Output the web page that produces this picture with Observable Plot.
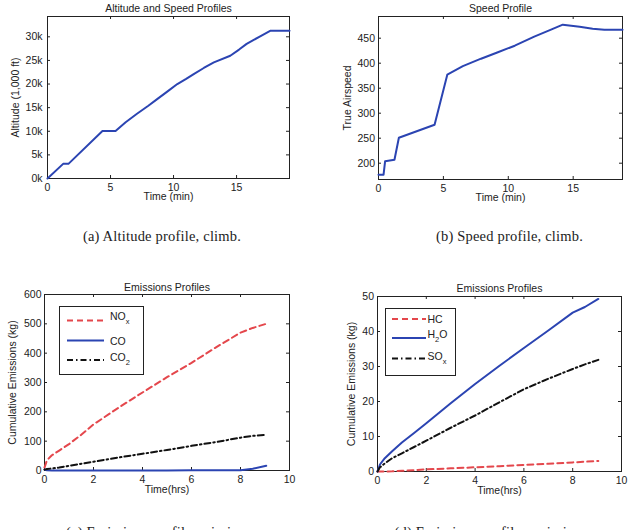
<!DOCTYPE html>
<html><head><meta charset="utf-8">
<script src="https://cdn.jsdelivr.net/npm/d3@7"></script>
<script src="https://cdn.jsdelivr.net/npm/@observablehq/plot@0.6"></script>
<style>
body{margin:0;background:#fff}
#root{position:relative;width:630px;height:530px;overflow:hidden;background:#fff;font-family:"Liberation Sans",Arial,sans-serif}
.panel{position:absolute}
#overlay{position:absolute;left:0;top:0}
</style></head>
<body><div id="root"></div>
<script>
// (a) Altitude profile, climb
const altTime = [0, 1.24, 1.66, 4.36, 5.4, 6.2, 7.1, 8.0, 8.7, 9.5, 10.3, 11.0, 11.6, 12.4, 13.2, 14.5, 15.2, 15.8, 16.8, 17.7, 19.2];
const altFeet = [0, 3100, 3100, 10050, 10050, 11900, 13700, 15400, 16800, 18400, 20000, 21100, 22100, 23400, 24600, 26000, 27300, 28500, 30000, 31300, 31300];
// (b) Speed profile, climb
const spdTime = [0, 0.39, 0.51, 1.23, 1.57, 4.32, 5.3, 6.5, 7.9, 9.2, 10.5, 12.0, 13.2, 14.2, 15.5, 16.5, 17.4, 18.8];
const spdValue = [177, 177, 204, 207, 251, 277, 377, 394, 409, 422, 435, 453, 466, 477, 473, 469, 467, 467];
// (c), (d) Emissions profiles (time in hours, kg)
const emTime = [0, 0.1, 0.3, 0.6, 1, 1.5, 2, 3, 4, 5, 6, 7, 8, 8.5, 9.05];
const nox = [10, 35, 52, 68, 90, 122, 157, 213, 266, 318, 367, 420, 470, 486, 500];
const co = [3, 0.5, 0.3, 0.2, 0.2, 0.2, 0.2, 0.2, 0.3, 0.4, 0.5, 0.6, 1, 6, 16];
const co2 = [3, 5, 7, 10, 16, 23, 30, 44, 57, 70, 84, 97, 112, 118, 122];
const hc = [0, 0, 0, 0.05, 0.2, 0.4, 0.6, 0.9, 1.2, 1.5, 1.9, 2.2, 2.6, 2.8, 3.0];
const h2o = [0, 2, 3.8, 5.8, 8.3, 11, 13.8, 19.5, 25, 30.2, 35.3, 40.3, 45.4, 47, 49.3];
const sox = [0, 1.2, 2.3, 3.8, 5.2, 7, 8.8, 12.5, 16, 19.8, 23.5, 26.5, 29.3, 30.6, 31.9];

// tick labels
const altXTicks = [0, 5, 10, 15];
const altYTicks = [0, 5000, 10000, 15000, 20000, 25000, 30000];
const spdXTicks = [0, 5, 10, 15];
const spdYTicks = [200, 250, 300, 350, 400, 450];
const emXTicks = [0, 2, 4, 6, 8, 10];
const emYTicksC = [0, 100, 200, 300, 400, 500, 600];
const emYTicksD = [0, 10, 20, 30, 40, 50];

const BLUE = "#2b44b2", RED = "#e4474c", BLACK = "#111";
const DASH = "6,4", DASHDOT = "6,3,1.5,3";
const INK = "#222";

const rows = (xs, ys) => xs.map((x, i) => ({x, y: ys[i]}));

function panel(o) {
  const innerH = o.height - o.mt - o.mb, innerW = o.width - o.ml - o.mr, t = 3;
  const marks = [
    Plot.frame({stroke: INK}),
    Plot.tickX(o.xTicks, {x: d => d, insetTop: innerH - t, stroke: INK}),
    Plot.tickX(o.xTicks, {x: d => d, insetBottom: innerH - t, stroke: INK}),
    Plot.tickY(o.yTicks, {y: d => d, insetRight: innerW - t, stroke: INK}),
    Plot.tickY(o.yTicks, {y: d => d, insetLeft: innerW - t, stroke: INK}),
    Plot.axisX({ticks: o.xTicks, tickSize: 0, tickPadding: 5, label: null}),
    Plot.axisY({ticks: o.yTicks, tickSize: 0, tickPadding: o.yPad, label: null, tickFormat: o.yFormat}),
    ...o.series.map(s => Plot.line(rows(s.x, s.y), {x: "x", y: "y", stroke: s.color, strokeWidth: 2, strokeDasharray: s.dash, strokeLinejoin: "round"})),
    Plot.text([o.title], {text: d => d, frameAnchor: "top", textAnchor: "middle", dy: o.titleDy, fill: INK}),
    Plot.text([o.xLabel], {text: d => d, frameAnchor: "bottom", textAnchor: "middle", dy: o.xLabelDy, fill: INK}),
    Plot.text([o.yLabel], {text: d => d, frameAnchor: "left", textAnchor: "middle", dx: o.yLabelDx, rotate: -90, fill: INK})
  ];
  const svg = Plot.plot({
    width: o.width, height: o.height,
    marginTop: o.mt, marginRight: o.mr, marginBottom: o.mb, marginLeft: o.ml,
    x: {domain: o.xDomain},
    y: {domain: o.yDomain},
    style: {fontFamily: '"Liberation Sans", Arial, sans-serif', fontSize: "10.5px", color: INK, background: "transparent", overflow: "visible"},
    marks
  });
  const div = document.createElement("div");
  div.className = "panel";
  div.style.left = o.left + "px";
  div.style.top = o.top + "px";
  div.appendChild(svg);
  document.getElementById("root").appendChild(div);
}

panel({left: 0, top: 0, width: 315, height: 215, mt: 16, mr: 26, mb: 37, ml: 47,
  xDomain: [0, 19.2], yDomain: [0, 34300], xTicks: altXTicks, yTicks: altYTicks, yPad: 5,
  yFormat: d => (d / 1000) + "k",
  title: "Altitude and Speed Profiles", titleDy: -11.5, xLabel: "Time (min)", xLabelDy: 21.5,
  yLabel: "Altitude (1,000 ft)", yLabelDx: -32,
  series: [{x: altTime, y: altFeet, color: BLUE}]});

panel({left: 315, top: 0, width: 315, height: 216, mt: 16, mr: 8, mb: 37, ml: 63,
  xDomain: [0, 18.8], yDomain: [167.4, 493.4], xTicks: spdXTicks, yTicks: spdYTicks, yPad: 3.5,
  yFormat: d => String(d),
  title: "Speed Profile", titleDy: -11.5, xLabel: "Time (min)", xLabelDy: 21.5,
  yLabel: "True Airspeed", yLabelDx: -30.5,
  series: [{x: spdTime, y: spdValue, color: BLUE}]});

panel({left: 0, top: 260, width: 315, height: 247, mt: 34, mr: 26, mb: 37, ml: 44,
  xDomain: [0, 10], yDomain: [0, 600], xTicks: emXTicks, yTicks: emYTicksC, yPad: 3,
  yFormat: d => String(d),
  title: "Emissions Profiles", titleDy: -11, xLabel: "Time(hrs)", xLabelDy: 22,
  yLabel: "Cumulative Emissions (kg)", yLabelDx: -32,
  series: [
    {x: emTime, y: nox, color: RED, dash: DASH},
    {x: emTime, y: co, color: BLUE},
    {x: emTime, y: co2, color: BLACK, dash: DASHDOT}
  ]});

panel({left: 315, top: 260, width: 315, height: 248, mt: 36, mr: 9, mb: 37, ml: 62,
  xDomain: [0, 10], yDomain: [0, 50], xTicks: emXTicks, yTicks: emYTicksD, yPad: 3.5,
  yFormat: d => String(d),
  title: "Emissions Profiles", titleDy: -12, xLabel: "Time(hrs)", xLabelDy: 22,
  yLabel: "Cumulative Emissions (kg)", yLabelDx: -25.5,
  series: [
    {x: emTime, y: hc, color: RED, dash: DASH},
    {x: emTime, y: h2o, color: BLUE},
    {x: emTime, y: sox, color: BLACK, dash: DASHDOT}
  ]});

// overlay: legends and captions
const NS = "http://www.w3.org/2000/svg";
const ov = document.createElementNS(NS, "svg");
ov.setAttribute("id", "overlay");
ov.setAttribute("width", 630);
ov.setAttribute("height", 530);
document.getElementById("root").appendChild(ov);
function el(tag, attrs, parent = ov) {
  const e = document.createElementNS(NS, tag);
  for (const k in attrs) e.setAttribute(k, attrs[k]);
  parent.appendChild(e);
  return e;
}
function label(x, y, main, sub, after = "") {
  const t = el("text", {x, y, "font-family": '"Liberation Sans", Arial, sans-serif', "font-size": 10.5, fill: INK});
  t.appendChild(document.createTextNode(main));
  if (sub) {
    const s = el("tspan", {dy: 4, "font-size": 7.5}, t);
    s.textContent = sub;
    if (after) {
      const a = el("tspan", {dy: -4}, t);
      a.textContent = after;
    }
  }
}
function legend(box, entries) {
  el("rect", {x: box.x + 0.5, y: box.y + 0.5, width: box.w, height: box.h, fill: "#fff", stroke: INK, "stroke-width": 1});
  for (const e of entries) {
    el("line", {x1: box.lx1, x2: box.lx2, y1: e.ly, y2: e.ly, stroke: e.color, "stroke-width": 2, "stroke-dasharray": e.dash || "none"});
    label(box.tx, e.ty, e.main, e.sub, e.after);
  }
}
legend({x: 59, y: 306, w: 84, h: 68, lx1: 67, lx2: 104, tx: 110},
  [{ly: 320.5, ty: 320, main: "NO", sub: "x", color: RED, dash: DASH},
   {ly: 340.5, ty: 344.5, main: "CO", color: BLUE},
   {ly: 360, ty: 360.5, main: "CO", sub: "2", color: BLACK, dash: DASHDOT}]);
legend({x: 385, y: 308, w: 70, h: 67, lx1: 392, lx2: 426, tx: 427.5},
  [{ly: 319, ty: 322.7, main: "HC", color: RED, dash: DASH},
   {ly: 338, ty: 338, main: "H", sub: "2", after: "O", color: BLUE},
   {ly: 358.5, ty: 360, main: "SO", sub: "x", color: BLACK, dash: DASHDOT}]);

const captions = [
  {x: 162, y: 240.7, t: "(a) Altitude profile, climb."},
  {x: 509.5, y: 240.7, t: "(b) Speed profile, climb."},
  {x: 158, y: 536.5, t: "(c) Emissions profile, mission."},
  {x: 493, y: 536.5, t: "(d) Emissions profile, emissions."}
];
for (const c of captions) {
  const t = el("text", {x: c.x, y: c.y, "text-anchor": "middle", "font-family": '"Liberation Serif", "DejaVu Serif", serif', "font-size": 14.5, fill: "#222", "letter-spacing": 0.2});
  t.textContent = c.t;
}
</script>
</body></html>
